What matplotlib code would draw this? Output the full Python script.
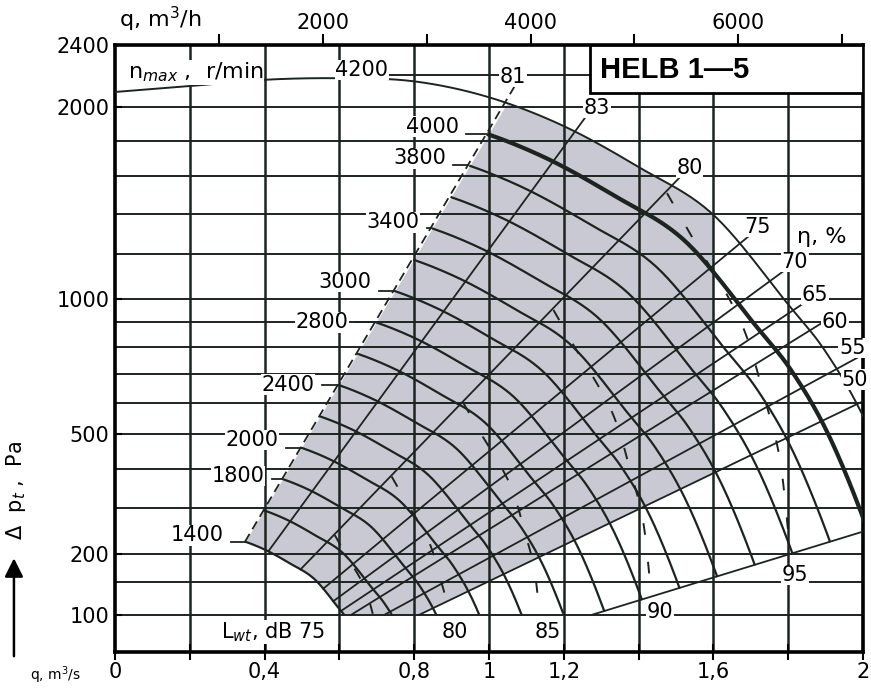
import numpy as np
import matplotlib.pyplot as plt
from matplotlib.patches import Polygon, Rectangle

# airflow q in m3/s, total pressure p in Pa
x_ticks = [0, 0.2, 0.4, 0.6, 0.8, 1.0, 1.2, 1.4, 1.6, 1.8, 2.0]
x_ticklabels = ['0', '', '0,4', '', '0,8', '1', '1,2', '', '1,6', '', '2']
y_ticks = [100, 200, 500, 1000, 2000, 2400]
top_ticks = [1000, 2000, 3000, 4000, 5000, 6000, 7000]          # m3/h
top_ticklabels = ['', '2000', '', '4000', '', '6000', '']
grid_q = [0.2, 0.4, 0.6, 0.8, 1.0, 1.2, 1.4, 1.6, 1.8]
grid_p = [100, 150, 200, 300, 400, 500, 600, 700, 800, 900, 1000,
          1200, 1400, 1600, 1800, 2000, 2200]

# fan curve at n_max = 4200 r/min
n_max = 4200
nmax_q = [0, 0.2, 0.4, 0.6, 0.8, 1.0, 1.2, 1.4, 1.6, 1.8, 1.9, 2.0, 2.1, 2.2]
nmax_p = [2093, 2130, 2170, 2180, 2160, 2060, 1885, 1650, 1395, 975, 784, 557, 306, 100]

speeds = [1400, 1600, 1800, 2000, 2200, 2400, 2600, 2800, 3000, 3200,
          3400, 3600, 3800, 4000]
thick_speeds = [4000]
speed_labels = [4000, 3800, 3400, 3000, 2800, 2400, 2000, 1800, 1400]
speed_label_q = [0.848, 0.815, 0.743, 0.615, 0.553, 0.463, 0.366, 0.329, 0.219]
speed_label_p = [1881, 1699, 1358, 1073, 901, 662, 482, 380, 239]

# efficiency lines, q where each meets the n_max curve
eta = [81, 83, 80, 75, 70, 65, 60, 55, 50]
eta_q = [1.043, 1.23, 1.489, 1.671, 1.751, 1.813, 1.858, 1.93, 1.984]
eta_label_q = [1.064, 1.289, 1.537, 1.717, 1.818, 1.872, 1.925, 1.971, 2.012]
eta_label_p = [2188, 1994, 1645, 1334, 1165, 1016, 902, 798, 680]
bottom_ratio = 7.85          # lower limit line, sqrt(p)/q

# sound power line Lwt = 95 dB
lw95_q = [1.476, 1.543, 1.671, 1.738, 1.778, 1.805]
lw95_p = [1508, 1284, 910, 610, 424, 209]
lw_levels = [75, 80, 85, 90, 95]
lw_label_q = [0.561, 0.909, 1.158, 1.457, 1.818]
lw_label_p = [78, 78, 78, 104, 162]

ink = '#1c2420'
fs = 15


def smooth(xs, ys, n=24):
    P = np.column_stack([np.asarray(xs, float), np.asarray(ys, float)])
    P = np.vstack([2 * P[0] - P[1], P, 2 * P[-1] - P[-2]])
    out = []
    t = np.linspace(0, 1, n, endpoint=False)[:, None]
    for i in range(1, len(P) - 2):
        p0, p1, p2, p3 = P[i - 1], P[i], P[i + 1], P[i + 2]
        out.append(0.5 * (2 * p1 + (-p0 + p2) * t
                          + (2 * p0 - 5 * p1 + 4 * p2 - p3) * t ** 2
                          + (-p0 + 3 * p1 - 3 * p2 + p3) * t ** 3))
    out.append(P[-2][None, :])
    pts = np.vstack(out)
    return pts[:, 0], pts[:, 1]


def label(x, y, s, size=fs, ha='center'):
    ax.text(x, y, s, fontsize=size, ha=ha, va='center', zorder=6,
            bbox=dict(fc='white', ec='none', pad=0.3))


# work in (q, sqrt p): fan laws scale curves about the origin
bq, bs = smooth(nmax_q, np.sqrt(nmax_p))
ratio = np.where(bq > 0, bs / np.maximum(bq, 1e-9), np.inf)


def on_base(k):
    # point of the n_max curve where sqrt(p)/q == k
    r = ratio[1:][::-1]
    q = np.interp(k, r, bq[1:][::-1])
    return q, k * q


k_eta = [np.interp(q, bq, bs) / q for q in eta_q]
k_left = k_eta[0]

fig = plt.figure(figsize=(8.71, 6.90), dpi=100)
ax = fig.add_axes([0.1320, 0.0551, 0.8588, 0.8803])
ax.set_yscale('function', functions=(lambda v: np.sqrt(np.clip(v, 0, None)), np.square))
ax.set_xlim(0, 2)
ax.set_ylim(55.8, 2400)

# shaded operating range
q1400, s1400 = bq * 1400 / n_max, bs * 1400 / n_max
m = (s1400 <= k_left * q1400 + 1e-9) & (s1400 >= 10)
poly_q = list(q1400[m])
poly_s = list(s1400[m])
k50 = k_eta[-1]
poly_q += [10 / k50, 1.6]
poly_s += [10, 1.6 * k50]
top = (bq <= 1.6) & (bs <= k_left * bq)
poly_q += [1.6] + list(bq[top][::-1])
poly_s += [np.interp(1.6, bq, bs)] + list(bs[top][::-1])
ax.add_patch(Polygon(np.column_stack([poly_q, np.square(poly_s)]), closed=True,
                     fc='#c9c9d3', ec='none', zorder=0))

# grid
for q in grid_q:
    ax.plot([q, q], [55.8, 2400], color=ink, lw=1.8, zorder=1)
for p in grid_p:
    q_from, q_to = (0.64, 1.27) if p == 2200 else (0, 2)
    ax.plot([q_from, q_to], [p, p], color=ink, lw=1.4, zorder=1)

# speed curves
for n in speeds:
    q, s = bq * n / n_max, bs * n / n_max
    keep = (s <= k_left * q + 1e-9) & (s >= 10) & (s >= bottom_ratio * q)
    ax.plot(q[keep], np.square(s[keep]), color=ink,
            lw=3.0 if n in thick_speeds else 1.6, zorder=3)
ax.plot(bq, np.square(bs), color=ink, lw=1.4, zorder=3)

# efficiency lines
q0, s0 = on_base(k_left)
for i, (val, k) in enumerate(zip(eta, k_eta)):
    qb, sb = on_base(k)
    lo_q, lo_s = qb * 1400 / n_max, sb * 1400 / n_max
    if lo_s < 10:
        lo_q, lo_s = 10 / k, 10
    hi_q = eta_q[i] * 1.035
    ax.plot([lo_q, hi_q], [lo_s ** 2, (k * hi_q) ** 2], color=ink, lw=1.3,
            ls=(0, (5, 3)) if i == 0 else '-', zorder=3)
    label(eta_label_q[i], eta_label_p[i], str(val), ha='right' if val == 50 else 'center')
label(1.89, 1283, 'η, %', size=16)
ax.plot([10 / bottom_ratio, 2.0], [100, (bottom_ratio * 2.0) ** 2], color=ink, lw=1.3, zorder=3)

# sound power lines, similar about the origin
lq, ls = smooth(lw95_q, np.sqrt(lw95_p))
for L in lw_levels:
    f = 10 ** ((L - 95) / 50)
    q, s = lq * f, ls * f
    keep = (s >= 10) & (s >= bottom_ratio * q - 0.2) & (s <= k_left * q)
    ax.plot(q[keep], np.square(s[keep]), color=ink, lw=1.4,
            ls=(0, (6, 14)), zorder=3)
for i, L in enumerate(lw_levels):
    txt = r'L$_{wt}$, dB 75' if L == 75 else str(L)
    label(lw_label_q[i], lw_label_p[i], txt, ha='right' if L == 75 else 'center')

# speed labels with leaders to curve starts
for n, lq_, lp_ in zip(speed_labels, speed_label_q, speed_label_p):
    label(lq_, lp_, str(n))
    sq, ss = q0 * n / n_max, s0 * n / n_max
    ax.plot([lq_ + 0.09, sq], [ss ** 2, ss ** 2], color=ink, lw=1.3, zorder=2)
label(0.035, 2218, r'n$_{max}$ ,  r/min', size=16, ha='left')
label(0.660, 2233, '4200')

# title box
ax.add_patch(Rectangle((0.635, 0.92), 0.365, 0.08, transform=ax.transAxes,
                       fc='white', ec='black', lw=2, zorder=7))
ax.text(0.648, 0.958, 'HELB 1—5', transform=ax.transAxes, fontsize=21,
        fontweight='bold', family='Liberation Sans', ha='left', va='center', zorder=8)

# axes and ticks
for sp in ax.spines.values():
    sp.set_linewidth(2.6)
ax.set_xticks(x_ticks)
ax.set_xticklabels(x_ticklabels)
ax.set_yticks(y_ticks)
ax.set_yticklabels([str(v) for v in y_ticks])
ax.yaxis.set_minor_locator(plt.NullLocator())
ax.tick_params(axis='x', direction='inout', length=12, width=1.5, labelsize=fs, pad=1)
ax.tick_params(axis='y', direction='in', length=5, width=1.5, labelsize=fs, pad=4)

top_ax = ax.secondary_xaxis('top', functions=(lambda q: q * 3600, lambda h: h / 3600))
top_ax.set_xticks(top_ticks)
top_ax.set_xticklabels(top_ticklabels)
top_ax.tick_params(direction='out', length=8, width=1.5, labelsize=fs, pad=0)
fig.text(0.137, 0.972, 'q, m$^3$/h', fontsize=16, ha='left', va='center')

fig.text(0.018, 0.29, r'$\Delta$  p$_t$ ,  Pa', fontsize=15, rotation=90,
         ha='center', va='center')
ax.annotate('', xy=(0.016, 0.195), xytext=(0.016, 0.045), xycoords='figure fraction',
            arrowprops=dict(arrowstyle='-|>', lw=1.8, color='black', mutation_scale=28))
fig.text(0.035, 0.022, 'q, m$^3$/s', fontsize=10, ha='left', va='center')

fig.savefig('out.png', dpi=100)
